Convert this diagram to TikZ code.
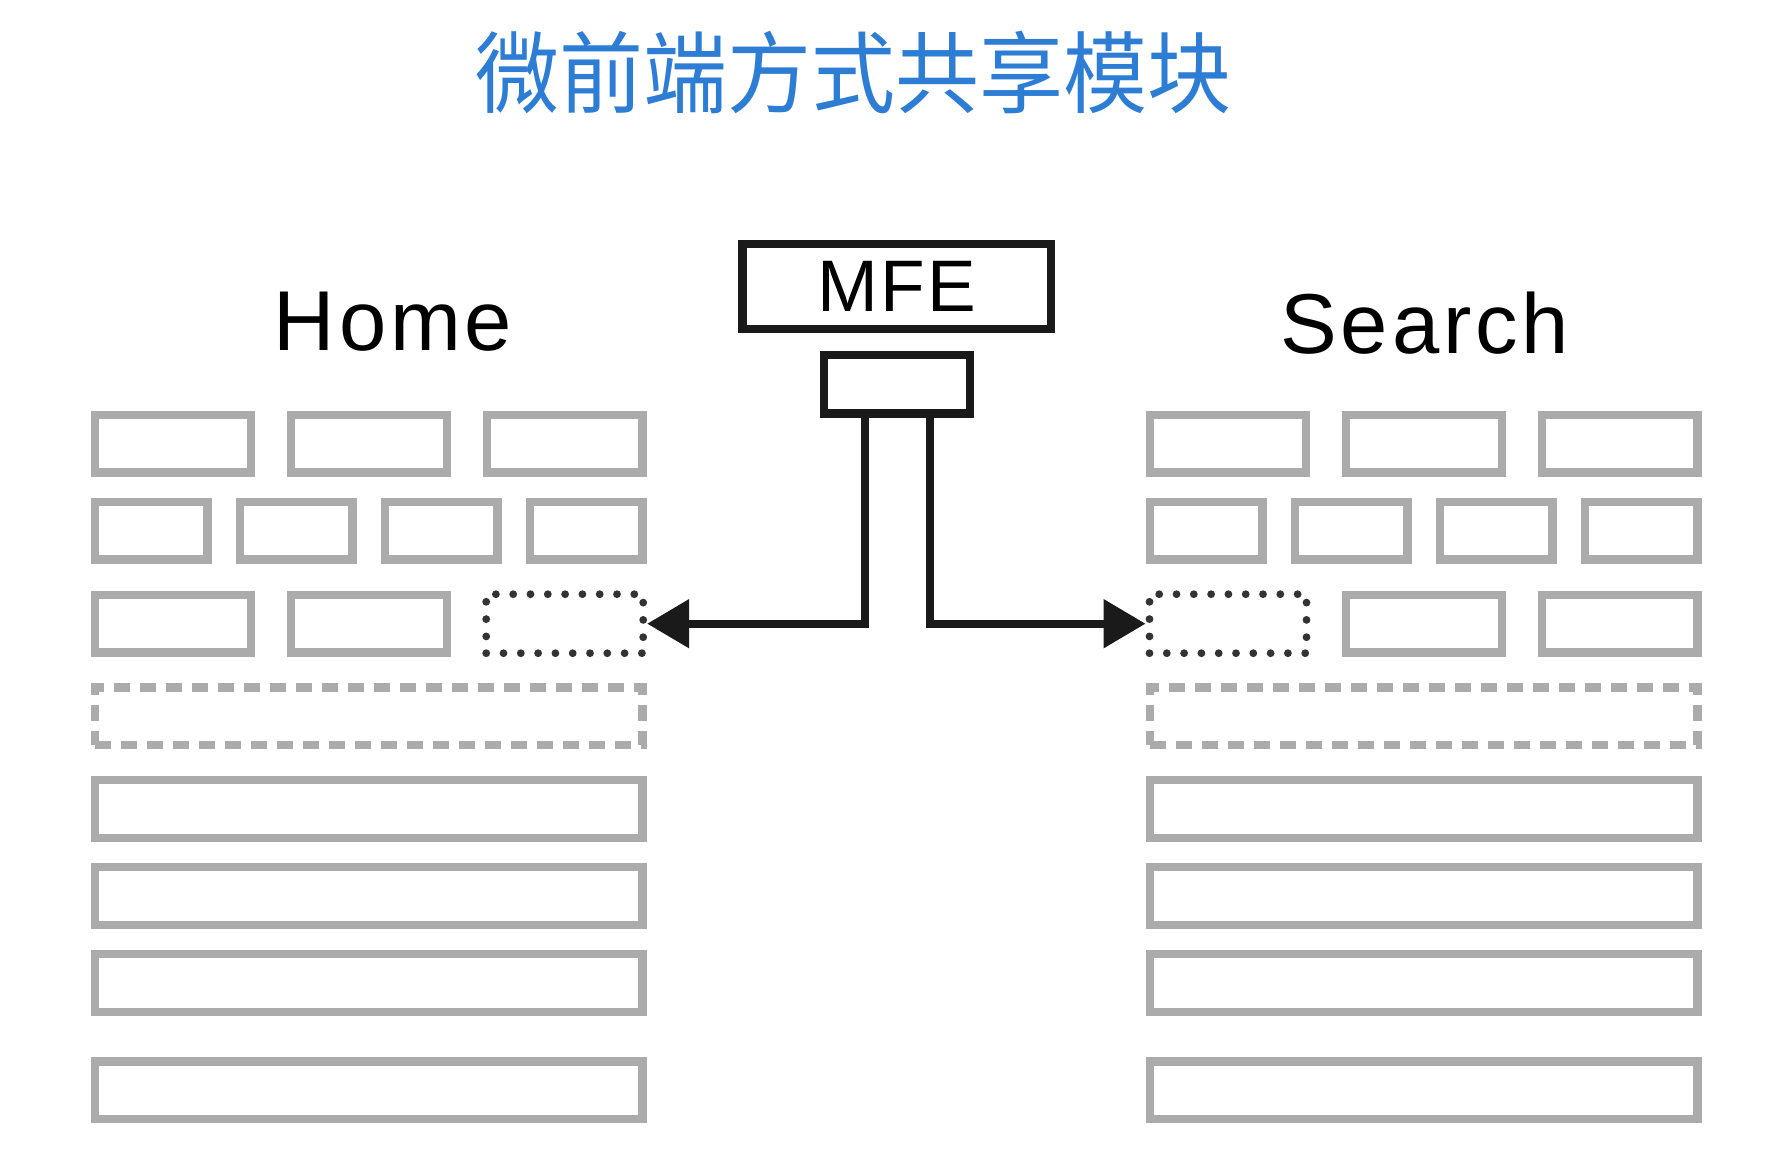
\documentclass[tikz,border=0pt]{standalone}
\usepackage{fontspec}
\newfontfamily\cjkfont{Noto Sans CJK SC}
\newfontfamily\arialfont[LetterSpace=4.5]{Liberation Sans}
\newfontfamily\mfefont[LetterSpace=3]{Liberation Sans}
\usetikzlibrary{arrows.meta}
\definecolor{brickgray}{HTML}{ABABAB}
\definecolor{titleblue}{HTML}{2E7DD4}
\definecolor{dotgray}{HTML}{333333}
\definecolor{inkblack}{HTML}{1A1A1A}
\begin{document}
\begin{tikzpicture}[x=1pt,y=-1pt,
  brick/.style={draw=brickgray, line width=8.3pt, inner sep=0pt, minimum height=57.7pt},
  wide/.style={brick, minimum width=155.7pt},
  narrow/.style={brick, minimum width=112.4pt},
  full/.style={brick, minimum width=547.4pt},
  dashedrow/.style={full, dash pattern=on 16pt off 10pt},
  slot/.style={draw=dotgray, line width=7.8pt, dash pattern=on 0pt off 17.3pt, line cap=round, inner sep=0pt, minimum width=157pt, minimum height=59pt},
  blackbox/.style={draw=inkblack, line width=8.3pt, inner sep=0pt},
  conn/.style={draw=inkblack, line width=8.3pt, -{Triangle[length=42pt,width=47pt]}},
  label/.style={anchor=base, font=\arialfont\fontsize{85}{85}\selectfont},
]
\fill[white] (0,0) rectangle (1786,1170);
\useasboundingbox (0,0) rectangle (1786,1170);

% title
\node[text=titleblue, font=\cjkfont\fontsize{84}{84}\selectfont] (title) at (853,72) {\scalebox{1}[1.06]{微前端方式共享模块}};

% labels
\node[label] (home) at (393,350) {Home};
\node[label] (search) at (1424.7,353) {Search};

% MFE
\node[blackbox, minimum width=308.4pt, minimum height=85pt, font=\mfefont\fontsize{73}{73}\selectfont] (mfe) at (896.65,286.65) {MFE};
\node[blackbox, minimum width=146pt, minimum height=58.4pt] (small) at (897.15,384.35) {};

% left panel
\node[wide] (l11) at (173,443.7) {};
\node[wide] (l12) at (369.15,443.7) {};
\node[wide] (l13) at (564.7,443.7) {};
\node[narrow] (l21) at (151.35,530.7) {};
\node[narrow] (l22) at (296.35,530.7) {};
\node[narrow] (l23) at (441.35,530.7) {};
\node[narrow] (l24) at (586.35,530.7) {};
\node[wide] (l31) at (173,623.7) {};
\node[wide] (l32) at (369.15,623.7) {};
\node[slot] (lslot) at (564.7,623.7) {};
\node[dashedrow] (l4) at (368.85,716.3) {};
\node[full] (l5) at (368.85,809) {};
\node[full] (l6) at (368.85,896) {};
\node[full] (l7) at (368.85,983) {};
\node[full] (l8) at (368.85,1090.3) {};

% right panel
\node[wide] (r11) at (1228,443.7) {};
\node[wide] (r12) at (1424.15,443.7) {};
\node[wide] (r13) at (1619.7,443.7) {};
\node[narrow] (r21) at (1206.35,530.7) {};
\node[narrow] (r22) at (1351.35,530.7) {};
\node[narrow] (r23) at (1496.35,530.7) {};
\node[narrow] (r24) at (1641.35,530.7) {};
\node[slot] (rslot) at (1228,623.7) {};
\node[wide] (r32) at (1424.15,623.7) {};
\node[wide] (r33) at (1619.7,623.7) {};
\node[dashedrow] (r4) at (1423.85,716.3) {};
\node[full] (r5) at (1423.85,809) {};
\node[full] (r6) at (1423.85,896) {};
\node[full] (r7) at (1423.85,983) {};
\node[full] (r8) at (1423.85,1090.3) {};

% connectors
\coordinate (jl) at (865,623);
\coordinate (jr) at (930,623);
\draw[conn] (jl |- small.south) |- (lslot.east);
\draw[conn] (jr |- small.south) |- (rslot.west);
\end{tikzpicture}
\end{document}
